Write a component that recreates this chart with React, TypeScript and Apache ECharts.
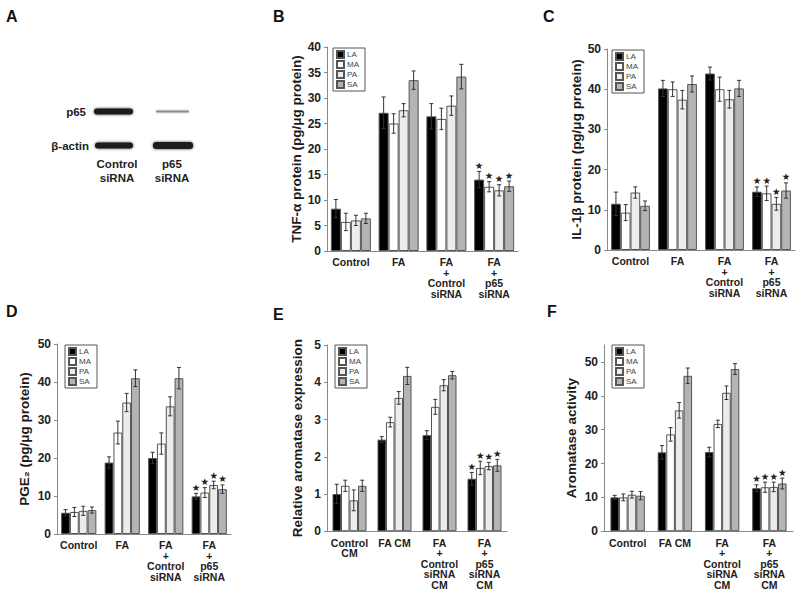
import React, { useEffect, useRef } from "react";
import * as echarts from "echarts";

const FONT = '"Liberation Sans", Arial, Helvetica, sans-serif';

const seriesNames = ["LA", "MA", "PA", "SA"];

const catsB = ["Control", "FA", "FA\n+\nControl\nsiRNA", "FA\n+\np65\nsiRNA"];
const catsC = ["Control", "FA", "FA\n+\nControl\nsiRNA", "FA\n+\np65\nsiRNA"];
const catsD = ["Control", "FA", "FA\n+\nControl\nsiRNA", "FA\n+\np65\nsiRNA"];
const catsE = ["Control\nCM", "FA CM", "FA\n+\nControl\nsiRNA\nCM", "FA\n+\np65\nsiRNA\nCM"];
const catsF = ["Control", "FA CM", "FA\n+\nControl\nsiRNA\nCM", "FA\n+\np65\nsiRNA\nCM"];

// rows: LA, MA, PA, SA ; columns: categories
const tnfMean = [
  [8.3, 27.1, 26.4, 14.0],
  [5.7, 25.0, 25.9, 12.6],
  [6.0, 27.6, 28.5, 11.9],
  [6.4, 33.5, 34.2, 12.7],
];
const tnfErr = [
  [1.8, 3.1, 2.5, 1.6],
  [1.7, 1.9, 2.1, 1.0],
  [1.0, 1.3, 1.9, 1.1],
  [1.0, 1.8, 2.4, 1.0],
];

const il1Mean = [
  [11.5, 40.2, 43.9, 14.5],
  [9.3, 40.0, 40.0, 14.1],
  [14.3, 37.4, 37.5, 11.5],
  [11.0, 41.3, 40.2, 14.8],
];
const il1Err = [
  [2.9, 2.0, 1.6, 1.2],
  [2.0, 1.8, 3.0, 1.8],
  [1.4, 2.3, 2.2, 1.6],
  [1.2, 2.0, 2.0, 1.9],
];

const pgeMean = [
  [5.6, 18.8, 20.0, 9.9],
  [5.8, 26.7, 23.8, 10.9],
  [6.1, 34.6, 33.6, 12.9],
  [6.3, 41.0, 41.0, 11.8],
];
const pgeErr = [
  [0.8, 1.5, 1.5, 0.8],
  [1.2, 3.0, 2.8, 1.3],
  [1.2, 2.4, 2.5, 1.0],
  [0.8, 2.2, 2.8, 1.1],
];

const aroExpMean = [
  [1.0, 2.46, 2.58, 1.41],
  [1.22, 2.93, 3.34, 1.7],
  [0.83, 3.58, 3.92, 1.75],
  [1.22, 4.17, 4.19, 1.77],
];
const aroExpErr = [
  [0.26, 0.08, 0.12, 0.17],
  [0.15, 0.13, 0.2, 0.18],
  [0.28, 0.17, 0.15, 0.1],
  [0.15, 0.23, 0.1, 0.16],
];

const aroActMean = [
  [10.0, 23.3, 23.4, 12.7],
  [10.0, 28.6, 31.7, 13.0],
  [10.8, 35.7, 40.9, 13.1],
  [10.5, 45.9, 47.9, 14.1],
];
const aroActErr = [
  [0.6, 2.0, 1.4, 1.0],
  [1.0, 2.0, 1.1, 1.5],
  [1.0, 2.3, 2.0, 1.4],
  [1.2, 2.3, 1.6, 1.6],
];

// which category carries the significance star
const starCategory = 3;

const fills = ["#000000", "#ffffff", "#ececec", "#b4b4b4"];

const panels = [
  {
    cats: catsB, means: tnfMean, errs: tnfErr, max: 40, interval: 5,
    title: "TNF-α protein (pg/μg protein)",
    grid: { left: 327, top: 47, width: 191, height: 204 },
    legend: { left: 333, top: 48 }, bw: 10, nameGap: 24,
  },
  {
    cats: catsC, means: il1Mean, errs: il1Err, max: 50, interval: 10,
    title: "IL-1β protein (pg/μg protein)",
    grid: { left: 607, top: 49, width: 188, height: 201 },
    legend: { left: 612, top: 50 }, bw: 9.7, nameGap: 20,
  },
  {
    cats: catsD, means: pgeMean, errs: pgeErr, max: 50, interval: 10,
    title: "PGE₂ (pg/μg protein)",
    grid: { left: 57, top: 344, width: 174, height: 190 },
    legend: { left: 65, top: 345 }, bw: 8.8, nameGap: 26,
  },
  {
    cats: catsE, means: aroExpMean, errs: aroExpErr, max: 5, interval: 1,
    title: "Relative aromatase expression",
    grid: { left: 327, top: 345, width: 180, height: 189 },
    legend: { left: 335, top: 345 }, bw: 8.5, nameGap: 23,
  },
  {
    cats: catsF, means: aroActMean, errs: aroActErr, max: 55, interval: 10,
    title: "Aromatase activity",
    grid: { left: 604, top: 345, width: 189, height: 188 },
    legend: { left: 612, top: 345 }, bw: 8.6, nameGap: 26,
  },
];

function buildOption() {
  const grid: any[] = [];
  const xAxis: any[] = [];
  const yAxis: any[] = [];
  const legend: any[] = [];
  const series: any[] = [];

  panels.forEach((p, pi) => {
    grid.push({ ...p.grid });
    xAxis.push({
      type: "category",
      gridIndex: pi,
      data: p.cats,
      axisLine: { lineStyle: { color: "#888", width: 1 } },
      axisTick: { show: false },
      axisLabel: {
        interval: 0,
        fontFamily: FONT,
        fontWeight: "bold",
        fontSize: 10.5,
        lineHeight: 10.5,
        color: "#222",
        margin: 6,
        verticalAlign: "top",
      },
    });
    yAxis.push({
      type: "value",
      gridIndex: pi,
      min: 0,
      max: p.max,
      interval: p.interval,
      name: p.title,
      nameLocation: "middle",
      nameRotate: 90,
      nameGap: p.nameGap,
      nameTextStyle: { fontFamily: FONT, fontSize: 13.5, fontWeight: "bold", color: "#1a1a1a" },
      splitLine: { show: false },
      axisLine: { show: true, lineStyle: { color: "#888", width: 1 } },
      axisTick: { show: true, length: 3, lineStyle: { color: "#888" } },
      axisLabel: {
        fontFamily: FONT,
        fontWeight: "bold",
        fontSize: 12,
        color: "#222",
        margin: 6,
        showMaxLabel: p.max % p.interval === 0,
      },
    });
    legend.push({
      left: p.legend.left,
      top: p.legend.top,
      orient: "vertical",
      data: seriesNames,
      icon: "rect",
      itemWidth: 7,
      itemHeight: 7,
      itemGap: 1,
      padding: [2, 6, 2, 3],
      borderColor: "#555",
      borderWidth: 1,
      selectedMode: false,
      textStyle: { fontFamily: FONT, fontSize: 8, color: "#444", padding: [0, 0, 0, -2] },
    });

    seriesNames.forEach((nm, si) => {
      series.push({
        type: "bar",
        name: nm,
        xAxisIndex: pi,
        yAxisIndex: pi,
        data: p.means[si],
        barWidth: p.bw,
        barGap: "0%",
        itemStyle: { color: fills[si], borderColor: "#555", borderWidth: 1 },
        emphasis: { disabled: true },
      });
    });

    const errData: any[] = [];
    seriesNames.forEach((_, si) => {
      p.means[si].forEach((v, ci) => {
        errData.push([ci, v, p.errs[si][ci], si, ci === starCategory ? 1 : 0]);
      });
    });
    const bw = p.bw;
    series.push({
      type: "custom",
      xAxisIndex: pi,
      yAxisIndex: pi,
      z: 5,
      encode: { x: 0, y: 1 },
      data: errData,
      renderItem: (params: any, api: any) => {
        const cat = api.value(0);
        const v = api.value(1);
        const e = api.value(2);
        const s = api.value(3);
        const star = api.value(4);
        const c = api.coord([cat, v]);
        const hi = api.coord([cat, v + e]);
        const lo = api.coord([cat, v - e]);
        const x = c[0] + (s - 1.5) * bw;
        const st = { stroke: "#333", lineWidth: 1 };
        const children: any[] = [
          { type: "line", shape: { x1: x, y1: hi[1], x2: x, y2: lo[1] }, style: st },
          { type: "line", shape: { x1: x - 2, y1: hi[1], x2: x + 2, y2: hi[1] }, style: st },
          { type: "line", shape: { x1: x - 2, y1: lo[1], x2: x + 2, y2: lo[1] }, style: st },
        ];
        if (star) {
          children.push({
            type: "text",
            style: {
              x: x,
              y: hi[1] - 1,
              text: "★",
              fill: "#222",
              fontSize: 9.5,
              fontFamily: "DejaVu Sans",
              textAlign: "center",
              textVerticalAlign: "bottom",
            },
          });
        }
        return { type: "group", children };
      },
    });
  });

  const letterStyle = { fontFamily: FONT, fontWeight: "bold", fontSize: 16, fill: "#111" };
  const lbl = { fontFamily: FONT, fontWeight: "bold", fontSize: 11.5, fill: "#222" };
  const graphic: any[] = [
    { type: "text", left: 6, top: 8, style: { ...letterStyle, text: "A" } },
    { type: "text", left: 273, top: 8, style: { ...letterStyle, text: "B" } },
    { type: "text", left: 543, top: 8, style: { ...letterStyle, text: "C" } },
    { type: "text", left: 6, top: 303, style: { ...letterStyle, text: "D" } },
    { type: "text", left: 273, top: 306, style: { ...letterStyle, text: "E" } },
    { type: "text", left: 547, top: 303, style: { ...letterStyle, text: "F" } },
    // western blot
    { type: "rect", shape: { x: 94, y: 108.5, width: 39, height: 6, r: 3 }, style: { fill: "#1a1a1a", shadowBlur: 3, shadowColor: "rgba(0,0,0,0.7)" } },
    { type: "rect", shape: { x: 156, y: 110.5, width: 33, height: 2, r: 1 }, style: { fill: "#8a8a8a", shadowBlur: 2, shadowColor: "rgba(0,0,0,0.3)" } },
    { type: "rect", shape: { x: 95, y: 142.5, width: 38, height: 6, r: 3 }, style: { fill: "#1a1a1a", shadowBlur: 3, shadowColor: "rgba(0,0,0,0.7)" } },
    { type: "rect", shape: { x: 153, y: 142, width: 40, height: 7, r: 3 }, style: { fill: "#1a1a1a", shadowBlur: 3, shadowColor: "rgba(0,0,0,0.7)" } },
    { type: "text", x: 86, y: 112, style: { ...lbl, text: "p65", textAlign: "right", textVerticalAlign: "middle" } },
    { type: "text", x: 89, y: 146, style: { ...lbl, text: "β-actin", textAlign: "right", textVerticalAlign: "middle" } },
    { type: "text", x: 117, y: 164, style: { ...lbl, text: "Control", textAlign: "center", textVerticalAlign: "middle" } },
    { type: "text", x: 117, y: 178, style: { ...lbl, text: "siRNA", textAlign: "center", textVerticalAlign: "middle" } },
    { type: "text", x: 172, y: 164, style: { ...lbl, text: "p65", textAlign: "center", textVerticalAlign: "middle" } },
    { type: "text", x: 172, y: 178, style: { ...lbl, text: "siRNA", textAlign: "center", textVerticalAlign: "middle" } },
  ];

  return {
    animation: false,
    backgroundColor: "#ffffff",
    textStyle: { fontFamily: FONT },
    grid,
    xAxis,
    yAxis,
    legend,
    series,
    graphic,
  };
}

export default function App() {
  const ref = useRef<HTMLDivElement>(null);
  useEffect(() => {
    if (!ref.current) return;
    const chart = echarts.init(ref.current, undefined, { renderer: "svg" });
    chart.setOption(buildOption() as any);
    return () => chart.dispose();
  }, []);
  return (
    <div
      ref={ref}
      style={{ position: "fixed", left: 0, top: 0, width: 800, height: 590, background: "#fff" }}
    />
  );
}
